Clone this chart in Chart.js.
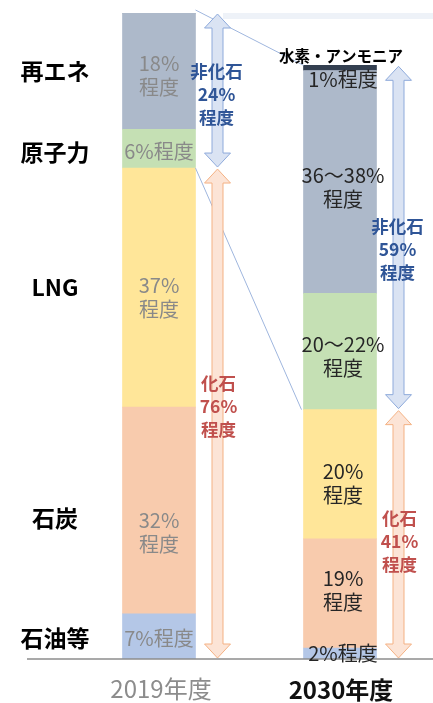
<!DOCTYPE html>
<html>
<head>
<meta charset="utf-8">
<script src="https://cdn.jsdelivr.net/npm/chart.js@4/dist/chart.umd.min.js"></script>
<style>
  html, body { margin: 0; padding: 0; background: #fff; }
</style>
</head>
<body>
<canvas id="mix" width="433" height="703"></canvas>
<script>
// Power mix 2019 vs 2030 (stacked, bottom to top)

const years = ['2019年度', '2030年度'];
const sources = ['石油等', '石炭', 'LNG', '原子力', '再エネ', '水素・アンモニア'];

// bar heights, in % of the 2019 total
const oil      = [7, 1.7];
const coal     = [32, 16.9];
const lng      = [37, 20];
const nuclear  = [6, 18];
const renew    = [18, 34.5];
const hydrogen = [0, 0.8];

// texts
const labels2019 = ['7%程度', '32%\n程度', '37%\n程度', '6%程度', '18%\n程度', ''];
const labels2030 = ['2%程度', '19%\n程度', '20%\n程度', '20～22%\n程度', '36～38%\n程度', '1%程度'];
const nonFossilText = ['非化石\n24%\n程度', '非化石\n59%\n程度'];
const fossilText = ['化石\n76%\n程度', '化石\n41%\n程度'];

const colors = ['#b4c7e7', '#f8cbad', '#ffe699', '#c5e0b4', '#adb9ca', '#333f50'];
const FONT = "'Noto Sans CJK JP', 'Noto Sans', sans-serif";
const FOSSIL = 3; // first three datasets are fossil

function multiline(ctx, text, x, y, lh) {
    let lines = text.split('\n');
    let y0 = y - (lines.length - 1) * lh / 2;
    lines.forEach((l, i) => ctx.fillText(l, x, y0 + i * lh));
}

function doubleArrow(ctx, x, yTop, yBot, fill, stroke) {
    let sw = 5.5, hw = 13, hh = 14;
    ctx.beginPath();
    ctx.moveTo(x, yTop);
    ctx.lineTo(x + hw, yTop + hh);
    ctx.lineTo(x + sw, yTop + hh);
    ctx.lineTo(x + sw, yBot - hh);
    ctx.lineTo(x + hw, yBot - hh);
    ctx.lineTo(x, yBot);
    ctx.lineTo(x - hw, yBot - hh);
    ctx.lineTo(x - sw, yBot - hh);
    ctx.lineTo(x - sw, yTop + hh);
    ctx.lineTo(x - hw, yTop + hh);
    ctx.closePath();
    ctx.fillStyle = fill;
    ctx.fill();
    ctx.lineWidth = 1;
    ctx.strokeStyle = stroke;
    ctx.stroke();
}

const decor = {
    id: 'decor',
    beforeDatasetsDraw(chart) {
        let ctx = chart.ctx;
        ctx.save();
        ctx.fillStyle = '#eef2f8';
        ctx.fillRect(223, 13, 210, 6);
        ctx.restore();
    },
    afterDatasetsDraw(chart) {
        let ctx = chart.ctx;
        let y = chart.scales.y;
        let sets = chart.data.datasets;
        let bar = (i, j) => chart.getDatasetMeta(i).data[j];
        let sum = (j, from, to) => sets.slice(from, to).reduce((s, d) => s + d.data[j], 0);

        ctx.save();

        // baseline
        ctx.strokeStyle = '#8c8c8c';
        ctx.lineWidth = 1.5;
        ctx.beginPath();
        ctx.moveTo(27, y.getPixelForValue(0));
        ctx.lineTo(433, y.getPixelForValue(0));
        ctx.stroke();

        // connector lines between the non-fossil parts
        let b0 = bar(0, 0), b1 = bar(0, 1);
        let r0 = b0.x + b0.width / 2, l1 = b1.x - b1.width / 2;
        ctx.strokeStyle = '#9fb6de';
        ctx.lineWidth = 1;
        ctx.beginPath();
        ctx.moveTo(r0, y.getPixelForValue(sum(0, 0, sets.length)) - 3);
        ctx.lineTo(l1, y.getPixelForValue(sum(1, 0, sets.length)));
        ctx.moveTo(r0, y.getPixelForValue(sum(0, 0, FOSSIL)));
        ctx.lineTo(l1 - 2, y.getPixelForValue(sum(1, 0, FOSSIL)));
        ctx.stroke();

        // arrows + their texts
        let textOff = [[4, -7], [12, 7]];
        [0, 1].forEach(j => {
            let b = bar(0, j);
            let ax = b.x + b.width / 2 + 22;
            let yTop = y.getPixelForValue(sum(j, 0, sets.length));
            let yMid = y.getPixelForValue(sum(j, 0, FOSSIL));
            let yBot = y.getPixelForValue(0);
            doubleArrow(ctx, ax, yTop + 1, yMid - 1, '#dae3f3', '#8eaadb');
            doubleArrow(ctx, ax, yMid + 1, yBot - 1, '#fce4d6', '#f4b183');

            ctx.font = 'bold 17.5px ' + FONT;
            ctx.textAlign = 'center';
            ctx.textBaseline = 'middle';
            ctx.fillStyle = '#2f5597';
            multiline(ctx, nonFossilText[j], ax - 1, (yTop + yMid) / 2 + textOff[j][0], 23);
            ctx.fillStyle = '#c0504d';
            multiline(ctx, fossilText[j], ax + 1, (yMid + yBot) / 2 + textOff[j][1], 23);
        });

        // labels inside the bars
        let off2019 = [2, 22, 10, 3, 4, 0];
        let off2030 = [0, -3, 9, 5, 5, 11];
        ctx.font = '20px ' + FONT;
        sets.forEach((d, i) => {
            let s = bar(i, 0);
            ctx.fillStyle = '#898989';
            multiline(ctx, labels2019[i], s.x, (s.y + s.base) / 2 + off2019[i], 24);
            let t = bar(i, 1);
            ctx.fillStyle = '#262626';
            multiline(ctx, labels2030[i], t.x + 3, (t.y + t.base) / 2 + off2030[i], 24);
        });

        // hydrogen name above the 2030 bar
        let h = bar(5, 1);
        ctx.font = 'bold 15.5px ' + FONT;
        ctx.fillStyle = '#000';
        ctx.fillText(sources[5], h.x + 1, h.y - 9);

        // source names on the left, level with the 2019 parts
        let offLeft = [2, 8, 0, 4, 0];
        ctx.font = 'bold 23px ' + FONT;
        for (let i = 0; i < 5; i++) {
            let s = bar(i, 0);
            ctx.fillText(sources[i], 55, (s.y + s.base) / 2 + offLeft[i]);
        }

        // year labels
        ctx.font = '24px ' + FONT;
        ctx.fillStyle = '#8c8c8c';
        ctx.fillText(years[0], bar(0, 0).x + 2, 689);
        ctx.font = 'bold 24px ' + FONT;
        ctx.fillStyle = '#111';
        ctx.fillText(years[1], bar(0, 1).x + 1, 690);

        ctx.restore();
    }
};

const series = [oil, coal, lng, nuclear, renew, hydrogen];

new Chart(document.getElementById('mix'), {
    type: 'bar',
    data: {
        labels: years,
        datasets: series.map((d, i) => ({
            label: sources[i],
            data: d,
            backgroundColor: colors[i],
            borderWidth: 0,
            barThickness: 73
        }))
    },
    options: {
        responsive: false,
        animation: false,
        devicePixelRatio: 1,
        layout: { padding: { left: 68.5, right: 2.5, top: 13, bottom: 44 } },
        scales: {
            x: { display: false, stacked: true },
            y: { display: false, stacked: true, min: 0, max: 100 }
        },
        plugins: {
            legend: { display: false },
            tooltip: { enabled: false }
        }
    },
    plugins: [decor]
});
</script>
</body>
</html>
